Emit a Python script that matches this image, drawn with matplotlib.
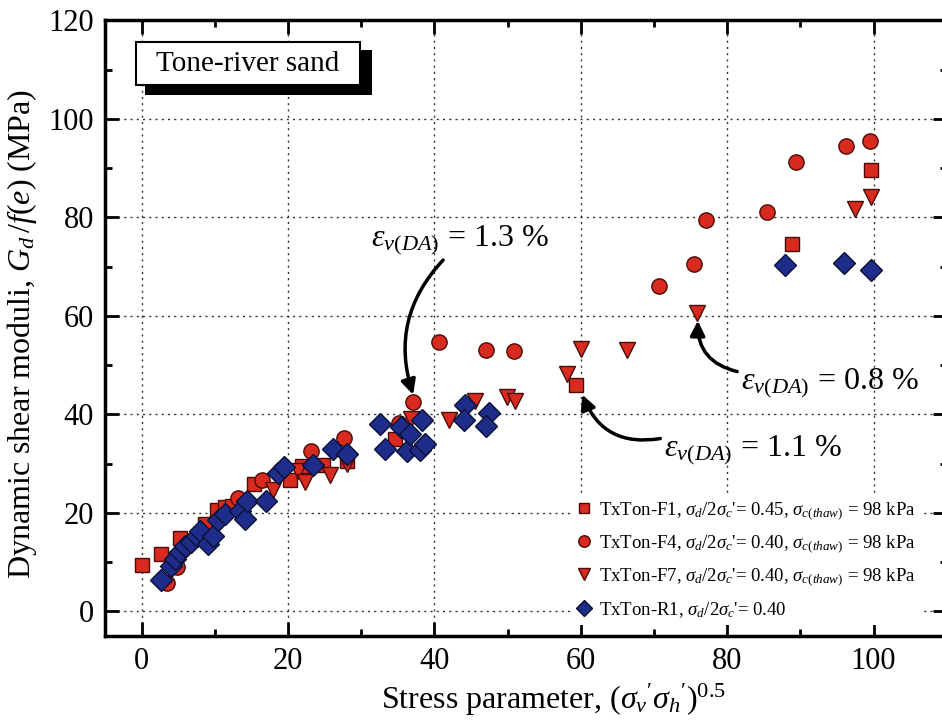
import matplotlib
matplotlib.use("Agg")
import matplotlib.pyplot as plt
from matplotlib.patches import Rectangle
from matplotlib.ticker import MultipleLocator

plt.rcParams['font.family'] = ['Liberation Serif', 'DejaVu Serif']
plt.rcParams['mathtext.fontset'] = 'custom'
plt.rcParams['mathtext.rm'] = 'Liberation Serif'
plt.rcParams['mathtext.it'] = 'Liberation Serif:italic'
plt.rcParams['mathtext.bf'] = 'Liberation Serif:bold'

# TxTon-F1 (squares)
f1_x = [0, 2.7, 5.3, 8.7, 10.3, 11.4, 12.4, 15.3, 20.3, 21.9, 24.8, 28.0, 34.6, 59.4, 88.9, 99.6]
f1_y = [9.5, 11.7, 14.8, 17.8, 20.5, 21.1, 21.3, 25.9, 26.6, 29.6, 29.8, 30.5, 34.9, 45.9, 74.5, 89.7]

# TxTon-F4 (circles)
f4_x = [3.5, 4.8, 13.1, 16.4, 23.2, 27.7, 35.2, 37.1, 40.6, 47.0, 50.9, 70.7, 75.5, 77.1, 85.4, 89.4, 96.3, 99.5]
f4_y = [5.8, 9.0, 23.1, 26.6, 32.5, 35.3, 38.2, 42.5, 54.6, 53.0, 52.8, 66.1, 70.5, 79.4, 81.0, 91.3, 94.5, 95.5]

# TxTon-F7 (down triangles)
f7_x = [18.0, 21.4, 22.3, 25.7, 28.0, 36.8, 42.0, 45.5, 49.9, 51.0, 58.1, 60.0, 66.3, 75.9, 97.5, 99.6]
f7_y = [24.6, 28.6, 26.3, 27.6, 30.0, 39.1, 38.8, 42.8, 43.5, 42.8, 48.1, 53.2, 53.0, 60.6, 81.6, 84.1]

# TxTon-R1 (diamonds)
r1_x = [2.6, 4.0, 4.6, 5.2, 5.9, 6.8, 7.5, 8.0, 9.1, 9.8, 10.5, 11.4, 13.4, 14.1, 14.4, 17.0,
        18.7, 19.4, 23.4, 26.2, 28.0, 32.6, 33.3, 35.5, 36.2, 36.7, 38.0, 38.3, 38.7,
        44.2, 44.1, 47.5, 47.0, 87.9, 95.9, 99.7]
r1_y = [6.4, 9.3, 10.7, 12.0, 13.2, 14.1, 15.4, 16.4, 13.6, 15.4, 18.5, 19.8, 20.4, 18.8, 22.5, 22.5,
        28.1, 29.3, 29.8, 33.0, 32.0, 38.0, 33.0, 37.4, 32.5, 36.1, 32.7, 38.8, 33.9,
        41.8, 38.8, 40.3, 37.6, 70.4, 70.8, 69.4]

labels = [
    r"TxTon-F1, $\sigma_d/2\sigma_c$'= 0.45, $\sigma_{c(thaw)}$ = 98 kPa",
    r"TxTon-F4, $\sigma_d/2\sigma_c$'= 0.40, $\sigma_{c(thaw)}$ = 98 kPa",
    r"TxTon-F7, $\sigma_d/2\sigma_c$'= 0.40, $\sigma_{c(thaw)}$ = 98 kPa",
    r"TxTon-R1, $\sigma_d/2\sigma_c$'= 0.40",
]

red = '#d92a20'
red_edge = '#4a0c08'
blue = '#1f2d8a'
blue_edge = '#0b1035'

fig = plt.figure(figsize=(9.42, 7.24), dpi=100)
ax = fig.add_axes([0.1115, 0.1215, 0.8935, 0.8505])

ax.plot(f1_x, f1_y, 's', ms=9.5, mfc=red, mec=red_edge, mew=1, label=labels[0], zorder=3)
ax.plot(f4_x, f4_y, 'o', ms=11, mfc=red, mec=red_edge, mew=1, label=labels[1], zorder=3)
ax.plot(f7_x, f7_y, 'v', ms=12, mfc=red, mec=red_edge, mew=1, label=labels[2], zorder=3)
ax.plot(r1_x, r1_y, 'D', ms=11, mfc=blue, mec=blue_edge, mew=1, label=labels[3], zorder=3)

ax.set_xlim(-5, 110)
ax.set_ylim(-5, 120)
ax.xaxis.set_major_locator(MultipleLocator(20))
ax.xaxis.set_minor_locator(MultipleLocator(10))
ax.yaxis.set_major_locator(MultipleLocator(20))
ax.yaxis.set_minor_locator(MultipleLocator(10))
ax.tick_params(which='both', direction='in', top=True, right=True, width=2)
ax.tick_params(which='major', length=10, labelsize=22, pad=8)
ax.tick_params(which='minor', length=5)
for s in ax.spines.values():
    s.set_linewidth(2.5)
ax.grid(True, which='major', linestyle=(0, (1.5, 3)), color='#333333', linewidth=1)

ax.set_xlabel(r"Stress parameter, $(\sigma_v{'}\sigma_h{'})^{0.5}$", fontsize=23)
ax.set_ylabel(r"Dynamic shear moduli, $G_d\,/f(e)$ (MPa)", fontsize=23)
ax.xaxis.set_label_coords(0.533, -0.075)
ax.yaxis.set_label_coords(-0.079, 0.49)

# sample name box with drop shadow
ax.add_patch(Rectangle((0.0475, 0.878), 0.27, 0.073, transform=ax.transAxes,
                       facecolor='black', edgecolor='none', zorder=4))
ax.add_patch(Rectangle((0.0368, 0.8945), 0.266, 0.0705, transform=ax.transAxes,
                       facecolor='white', edgecolor='black', linewidth=1.5, zorder=5))
ax.text(0.17, 0.929, "Tone-river sand", transform=ax.transAxes, fontsize=21,
        ha='center', va='center', zorder=6)

# volumetric strain callouts
eps = r"$\varepsilon_{v(DA)}$"
arrow = dict(arrowstyle='-|>', color='black', lw=2.5, mutation_scale=22, shrinkA=0, shrinkB=0)
ax.annotate(eps + " = 1.3 %", xy=(37.1, 44.0), xytext=(43.5, 75.3), fontsize=23,
            ha='center', va='center', zorder=6,
            arrowprops=dict(arrow, connectionstyle='arc3,rad=0.3', relpos=(0.42, 0.0)))
ax.annotate(eps + " = 1.1 %", xy=(60.2, 44.0), xytext=(83.5, 32.7), fontsize=23,
            ha='center', va='center', zorder=6,
            arrowprops=dict(arrow, connectionstyle='arc3,rad=-0.4', relpos=(-0.02, 0.85)))
ax.annotate(eps + " = 0.8 %", xy=(76.0, 59.0), xytext=(94.0, 46.3), fontsize=23,
            ha='center', va='center', zorder=6,
            arrowprops=dict(arrow, connectionstyle='arc3,rad=-0.4', relpos=(-0.02, 0.85)))

leg = ax.legend(loc='lower left', bbox_to_anchor=(0.542, 0.002), fontsize=13.5,
                frameon=True, framealpha=1, facecolor='white', edgecolor='none',
                handlelength=0.8, handletextpad=0.4, labelspacing=0.62,
                borderpad=0.3, markerscale=0.75, fancybox=False)
leg.set_zorder(5)

fig.savefig('out.png', dpi=100)
